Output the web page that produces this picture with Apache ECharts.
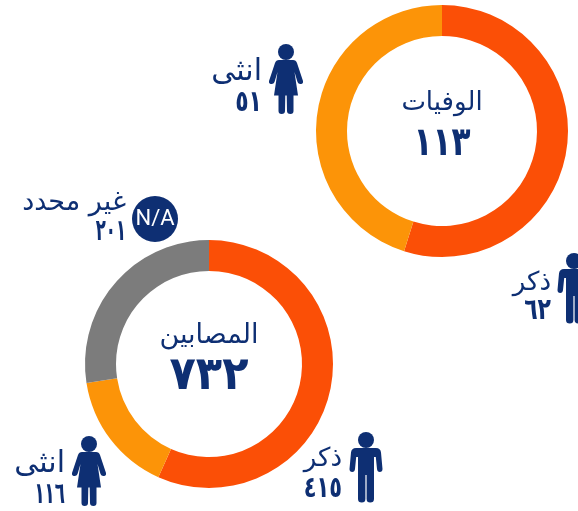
<!DOCTYPE html>
<html><head><meta charset="utf-8">
<style>html,body{margin:0;padding:0;background:#fff}#c{width:578px;height:511px}</style>
<script src="https://cdn.jsdelivr.net/npm/echarts@6/dist/echarts.min.js"></script>
</head><body><div id="c"></div>
<script>
const deathLabels = ['ذكر','انثى'];
const deathValues = [62,51];
const deathTickText = ['٦٢','٥١'];
const deathTitle = 'الوفيات';
const deathTotal = '١١٣';
const caseLabels = ['ذكر','انثى','غير محدد'];
const caseValues = [415,116,201];
const caseTickText = ['٤١٥','١١٦','٢٠١'];
const caseTitle = 'المصابين';
const caseTotal = '٧٣٢';
const colors = ['#FB4F06','#FC9408','#7C7C7C'];
const navy = '#0E2F73';
const FONT = '"DejaVu Sans"';

const femalePath='M-7,8 L7,8 Q10,8 11,11 L17,29 Q17.5,31.5 15,32 Q12.5,32.5 11.5,30 L8.5,20 L12,43.5 L7.5,43.5 L7.5,59 Q7.5,62 4.5,62 Q1,62 1,59 L0.7,43.5 L-0.7,43.5 L-1,59 Q-1,62 -4.5,62 Q-7.5,62 -7.5,59 L-7.5,43.5 L-12,43.5 L-8.5,20 L-11.5,30 Q-12.5,32.5 -15,32 Q-17.5,31.5 -17,29 L-11,11 Q-10,8 -7,8 Z';
const malePath='M-10,8 L10,8 Q14.5,8 15,12.5 L16.5,29 Q16.5,32 13.8,32 Q11.3,32 11,29 L9.8,17 L8,17 L8,59 Q8,62.5 4.2,62.5 Q0.6,62.5 0.6,59 L0.6,35 L-0.6,35 L-0.6,59 Q-0.6,62.5 -4.2,62.5 Q-8,62.5 -8,59 L-8,17 L-9.8,17 L-11,29 Q-11.3,32 -13.8,32 Q-16.5,32 -16.5,29 L-15,12.5 Q-14.5,8 -10,8 Z';
echarts.graphic.registerShape('femaleBody',echarts.graphic.extendPath(femalePath,{}));
echarts.graphic.registerShape('maleBody',echarts.graphic.extendPath(malePath,{}));

const chart = echarts.init(document.getElementById('c'),null,{renderer:'canvas'});
function pie(center,radius,labels,values){
  return {type:'pie',center,radius,startAngle:90,clockwise:true,silent:true,animation:false,
    label:{show:false},labelLine:{show:false},
    data:values.map((v,i)=>({name:labels[i],value:v,itemStyle:{color:colors[i]}}))};
}
function txt(x,y,t,size,bold,align,sx,sy){
  return {type:'text',x,y,scaleX:sx||1,scaleY:sy||1,silent:true,style:{text:t,x:0,y:0,fill:navy,align:align||'right',verticalAlign:'middle',
    font:(bold?'bold ':'')+size+'px '+FONT}};
}
function person(x,y,kind){return {type:'group',x,y,silent:true,children:[
    {type:'circle',shape:{cx:0,cy:0,r:8},style:{fill:navy}},
    {type:kind,style:{fill:navy}}]};}

chart.setOption({
  animation:false,
  backgroundColor:'#fff',
  series:[pie([442,131],[95,126],deathLabels,deathValues),pie([209,364],[93,124],caseLabels,caseValues)],
  graphic:[
    txt(442,103,deathTitle,26,false,'center'),
    txt(442,145,deathTotal,38,true,'center',0.82,1.05),
    txt(209,336,caseTitle,27,false,'center'),
    txt(209,377,caseTotal,44,true,'center',0.98,1.05),
    person(286,52,'femaleBody'),
    txt(262,72,deathLabels[1],30,false),
    txt(262,103,deathTickText[1],22,true,'right',1,1.35),
    person(574,261,'maleBody'),
    txt(551,283,deathLabels[0],26,false),
    txt(551,311,deathTickText[0],22,true,'right',1,1.35),
    person(89,444,'femaleBody'),
    txt(65,464,caseLabels[1],30,false),
    txt(65,495,caseTickText[1],22,true,'right',0.76,1.35),
    person(366,440,'maleBody'),
    txt(342,459,caseLabels[0],26,false),
    txt(342,489,caseTickText[0],22,true,'right',0.95,1.35),
    {type:'circle',silent:true,shape:{cx:155,cy:219,r:23},style:{fill:navy}},
    {type:'text',x:155,y:219,silent:true,style:{text:'N/A',x:0,y:0,fill:'#fff',align:'center',verticalAlign:'middle',font:'22px Roboto'}},
    txt(126,203,caseLabels[2],27,false),
    txt(126,232,caseTickText[2],22,true,'right',0.75,1.35)
  ]
});
</script></body></html>
